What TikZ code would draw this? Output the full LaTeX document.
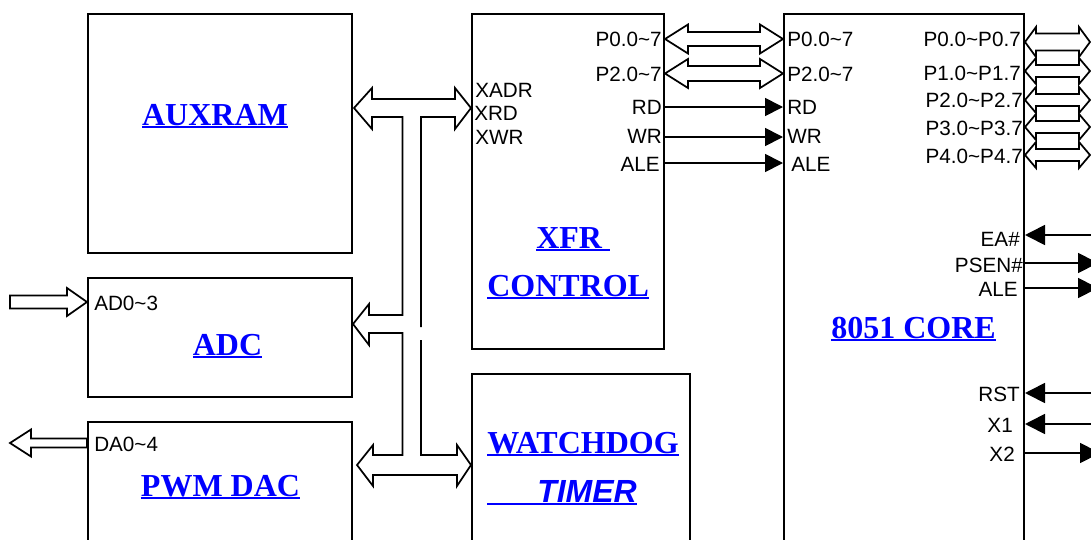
\documentclass[tikz,border=0pt]{standalone}
\usepackage{fontspec}
\setmainfont{Liberation Serif}
\setsansfont{Liberation Sans}
\usetikzlibrary{arrows.meta,fit,calc}
\definecolor{lnk}{RGB}{0,0,255}
\newcommand{\myul}[1]{\setbox0=\hbox{#1}\rlap{\rule[-2.4pt]{\wd0}{1.6pt}}\box0}
\newcommand{\dblar}[5]{\draw[hol] (#1) -- ([shift={(#3,-#4)}]#1) -- ([shift={(#3,-#5)}]#1) -- ([shift={(-#3,-#5)}]#2) -- ([shift={(-#3,-#4)}]#2) -- (#2) -- ([shift={(-#3,#4)}]#2) -- ([shift={(-#3,#5)}]#2) -- ([shift={(#3,#5)}]#1) -- ([shift={(#3,#4)}]#1) -- cycle;}
\tikzset{
 box/.style={draw, line width=1.5pt, inner sep=0pt},
 ttl/.style={text=lnk, font=\fontsize{24}{28}\selectfont\bfseries, inner sep=0pt, anchor=base},
 lbl/.style={font=\fontsize{15.5}{18}\selectfont\sffamily, inner sep=0pt},
 hol/.style={draw, line width=1.3pt, line join=miter},
 sig/.style={draw, line width=1.3pt, -{Triangle[length=13.5pt,width=13.5pt]}},
 sigb/.style={draw, line width=1.3pt, -{Triangle[length=15pt,width=15pt]}},
}
\begin{document}
\begin{tikzpicture}[x=0.75pt,y=-0.75pt]
\useasboundingbox (0,0) rectangle (1091,539);
\clip (0,0) rectangle (1091,539);
% boxes
\node[box, fit={(88,14) (352,253)}] (auxram) {};
\node[box, fit={(88,278) (352,397)}] (adc) {};
\node[box, fit={(88,422) (352,570)}] (pwm) {};
\node[box, fit={(472,14) (664,349)}] (xfr) {};
\node[box, fit={(472,374) (690,570)}] (wdt) {};
\node[box, fit={(784,14) (1024,570)}] (core) {};
% titles
\node[ttl] (tauxram) at (215,125) {\myul{AUXRAM}};
\node[ttl, anchor=base west] (txfr1) at (536,248) {\myul{XFR\ }};
\node[ttl, anchor=base west] (txfr2) at (487,296) {\myul{CONTROL}};
\node[ttl] (tadc) at (227.5,355) {\myul{ADC}};
\node[ttl] (tpwm) at (220.5,496) {\myul{PWM DAC}};
\node[ttl, anchor=base west] (twdt1) at (487,453) {\myul{WATCHDOG}};
\node[ttl, anchor=base west, font=\fontsize{24}{28}\selectfont\sffamily\bfseries\itshape] (twdt2) at (487,502) {\myul{\hspace{37.5pt}TIMER}};
\node[ttl, anchor=base west] (tcore) at (831,338) {\myul{8051 CORE}};
% XFR inner left labels
\node[lbl, anchor=base west] (xadr) at (475,97) {XADR};
\node[lbl, anchor=base west] (xrd) at (474,120.5) {XRD};
\node[lbl, anchor=base west] (xwr) at (475,144) {XWR};
% XFR right labels
\node[lbl, anchor=base east] (xp0) at (662,46) {P0.0\textasciitilde 7};
\node[lbl, anchor=base east] (xp2) at (662,81) {P2.0\textasciitilde 7};
\node[lbl, anchor=base east] (xrdo) at (662,114) {RD};
\node[lbl, anchor=base east] (xwro) at (662,143.5) {WR};
\node[lbl, anchor=base east] (xale) at (660,171) {ALE};
% core left labels
\node[lbl, anchor=base west] (cp0) at (787,46) {P0.0\textasciitilde 7};
\node[lbl, anchor=base west] (cp2) at (787,81) {P2.0\textasciitilde 7};
\node[lbl, anchor=base west] (crd) at (787,114) {RD};
\node[lbl, anchor=base west] (cwr) at (787,143) {WR};
\node[lbl, anchor=base west] (cale) at (791,171) {ALE};
% core right labels
\node[lbl, anchor=base east] (rp0) at (1021,46) {P0.0\textasciitilde P0.7};
\node[lbl, anchor=base east] (rp1) at (1021,80) {P1.0\textasciitilde P1.7};
\node[lbl, anchor=base east] (rp2) at (1023,107) {P2.0\textasciitilde P2.7};
\node[lbl, anchor=base east] (rp3) at (1023,135) {P3.0\textasciitilde P3.7};
\node[lbl, anchor=base east] (rp4) at (1023,163) {P4.0\textasciitilde P4.7};
\node[lbl, anchor=base east] (rea) at (1020,246) {EA\#};
\node[lbl, anchor=base east] (rpsen) at (1023,272) {PSEN\#};
\node[lbl, anchor=base east] (rale) at (1018,296) {ALE};
\node[lbl, anchor=base east] (rrst) at (1020,401) {RST};
\node[lbl, anchor=base east] (rx1) at (1013,432) {X1};
\node[lbl, anchor=base east] (rx2) at (1015,461) {X2};
% left side labels
\node[lbl, anchor=base west] (lad) at (94,310) {AD0\textasciitilde 3};
\node[lbl, anchor=base west] (lda) at (94,451) {DA0\textasciitilde 4};
% xfr <-> core buses
\coordinate (pa1) at (xfr.east |- 0,39);
\coordinate (pb1) at (core.west |- 0,39);
\coordinate (pa2) at (xfr.east |- 0,73.5);
\coordinate (pb2) at (core.west |- 0,73.5);
\dblar{pa1}{pb1}{23}{14.5}{7}
\dblar{pa2}{pb2}{23}{14.5}{7.5}
\draw[sig] (xfr.east |- 0,107) -- (core.west |- 0,107);
\draw[sig] (xfr.east |- 0,137) -- (core.west |- 0,137);
\draw[sig] (xfr.east |- 0,163) -- (core.west |- 0,163);
% core right ports
\coordinate (q0a) at (core.east |- 0,42);
\coordinate (q0b) at (1090,42);
\coordinate (q1a) at (core.east |- 0,71);
\coordinate (q1b) at (1090,71);
\coordinate (q2a) at (core.east |- 0,100);
\coordinate (q2b) at (1090,100);
\coordinate (q3a) at (core.east |- 0,127);
\coordinate (q3b) at (1090,127);
\coordinate (q4a) at (core.east |- 0,155);
\coordinate (q4b) at (1090,155);
\dblar{q0a}{q0b}{11}{15}{8.5}
\dblar{q1a}{q1b}{11}{13}{6}
\dblar{q2a}{q2b}{11}{13}{6}
\dblar{q3a}{q3b}{11}{13}{6}
\dblar{q4a}{q4b}{11}{13}{6}
% core right signals
\coordinate (eaext) at (1100,235);
\coordinate (psenext) at (1098,263);
\coordinate (aleext) at (1098,288);
\coordinate (rstext) at (1100,393);
\coordinate (x1ext) at (1100,424);
\coordinate (x2ext) at (1100,453);
\draw[sigb] (eaext) -- (core.east |- eaext);
\draw[sigb] (core.east |- psenext) -- (psenext);
\draw[sigb] (core.east |- aleext) -- (aleext);
\draw[sigb] (rstext) -- (core.east |- rstext);
\draw[sigb] (x1ext) -- (core.east |- x1ext);
\draw[sigb] (core.east |- x2ext) -- (x2ext);
% AD0~3 input arrow
\coordinate (adtail) at (10,302);
\coordinate (adtip) at (adc.west |- adtail);
\draw[hol] (adtip) -- ([shift={(-20,-14)}]adtip) -- ([shift={(-20,-6.5)}]adtip) -- ([shift={(0,-6.5)}]adtail) -- ([shift={(0,6.5)}]adtail) -- ([shift={(-20,6.5)}]adtip) -- ([shift={(-20,14)}]adtip) -- cycle;
% DA0~4 output arrow
\coordinate (datip) at (10,443);
\coordinate (datail) at (pwm.west |- datip);
\draw[hol] (datip) -- ([shift={(21,-13.5)}]datip) -- ([shift={(21,-4.5)}]datip) -- ([shift={(0,-4.5)}]datail) -- ([shift={(0,4.5)}]datail) -- ([shift={(21,4.5)}]datip) -- ([shift={(21,13.5)}]datip) -- cycle;
% internal bus
\coordinate (bauxram) at (354,108);
\coordinate (bxfr) at (xfr.west |- bauxram);
\coordinate (badc) at (adc.east |- 0,324);
\coordinate (bpwm) at (357,465);
\coordinate (bwdt) at (wdt.west |- bpwm);
\draw[hol] (421,340) -- (421,455) -- (457,455) -- (457,445) -- (bwdt) -- (457,486) -- (457,475)
  -- (373,475) -- (373,486) -- (bpwm) -- (373,445) -- (373,455) -- (402.5,455) -- (402.5,333)
  -- (369,333) -- (369,345) -- (badc) -- (369,304) -- (369,315) -- (402.5,315) -- (402.5,117)
  -- (372,117) -- (372,129) -- (bauxram) -- (372,88) -- (372,99) -- (455,99) -- (455,88)
  -- (bxfr) -- (455,129) -- (455,117) -- (421,117) -- (421,327);
\end{tikzpicture}
\end{document}
